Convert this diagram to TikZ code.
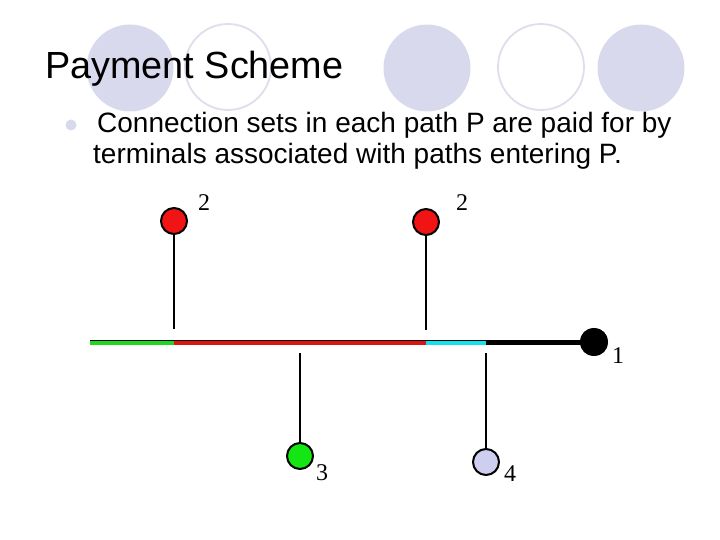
\documentclass[tikz,border=0pt]{standalone}
\usepackage{fontspec}
\setmainfont{Liberation Serif}
\newfontfamily\arialf{Liberation Sans}
\definecolor{lav}{RGB}{217,217,238}
\definecolor{lavline}{RGB}{222,222,236}
\definecolor{nodered}{RGB}{240,20,20}
\definecolor{nodegreen}{RGB}{20,230,20}
\definecolor{nodecyan}{RGB}{20,225,235}
\definecolor{nodelav}{RGB}{206,206,240}
\definecolor{linered}{RGB}{220,20,20}
\definecolor{linegreen}{RGB}{30,215,30}
\tikzset{
  deco/.style={circle, fill=lav, minimum size=87pt, inner sep=0pt},
  decoring/.style={circle, draw=lavline, line width=1.8pt, minimum size=86pt, inner sep=0pt},
  term/.style={circle, draw=black, line width=2pt, minimum size=26pt, inner sep=0pt},
  lbl/.style={font=\fontsize{24}{24}\selectfont, inner sep=0pt},
  stem/.style={line width=2.6pt, black},
  seg/.style={line width=4.2pt},
  body/.style={anchor=base west, inner sep=0pt, font=\arialf\fontsize{28}{28}\selectfont},
}
\begin{document}
\begin{tikzpicture}[x=1pt,y=-1pt]
\useasboundingbox (0,0) rectangle (720,540);
% decorative header circles
\node[deco] (c1) at (130,68) {};
\node[decoring] (c2) at (228,67) {};
\node[deco] (c3) at (427,68) {};
\node[decoring] (c4) at (541,67) {};
\node[deco] (c5) at (641,68) {};
% title
\node[anchor=base west, inner sep=0pt, font=\arialf\fontsize{37.8}{37.8}\selectfont] (title) at (45,79) {Payment Scheme};
% bullet
\node[circle, fill=lav, minimum size=11pt, inner sep=0pt] (bul) at (71,125) {};
\node[body] (l1) at (97,133) {Connection sets in each path P are paid for by};
\node[body] (l2) at (93,164) {terminals associated with paths entering P.};
% main line coordinates
\coordinate (a) at (90,342);
\coordinate (b) at (174,342);
\coordinate (c) at (426,342);
\coordinate (d) at (486,342);
\node[term, fill=black] (n1) at (594,342) {};
\draw[black, line width=5pt] (a) -- (n1.center);
\draw[seg, linegreen] ([yshift=-0.6pt]a) -- ([yshift=-0.6pt]b);
\draw[seg, linered] ([yshift=-0.6pt]b) -- ([yshift=-0.6pt]c);
\draw[seg, nodecyan] ([yshift=-0.6pt]c) -- ([yshift=-0.6pt]d);
\node[term, fill=black] (n1b) at (594,342) {};
\node[lbl] (t1) at (618,356) {1};
% top terminals
\node[term, fill=nodered] (r1) at (174,221) {};
\coordinate (r1e) at (174,329);
\draw[stem] (r1) -- (r1e);
\node[lbl] (t2a) at (204,203) {2};
\node[term, fill=nodered] (r2) at (426,222) {};
\coordinate (r2e) at (426,330);
\draw[stem] (r2) -- (r2e);
\node[lbl] (t2b) at (462,203) {2};
% bottom terminals
\coordinate (g1s) at (300,353);
\node[term, fill=nodegreen] (g1) at (300,456) {};
\draw[stem] (g1s) -- (g1);
\node[lbl] (t3) at (322,473) {3};
\coordinate (v1s) at (486,353);
\node[term, fill=nodelav] (v1) at (486,462) {};
\draw[stem] (v1s) -- (v1);
\node[lbl] (t4) at (510,474) {4};
\end{tikzpicture}
\end{document}
